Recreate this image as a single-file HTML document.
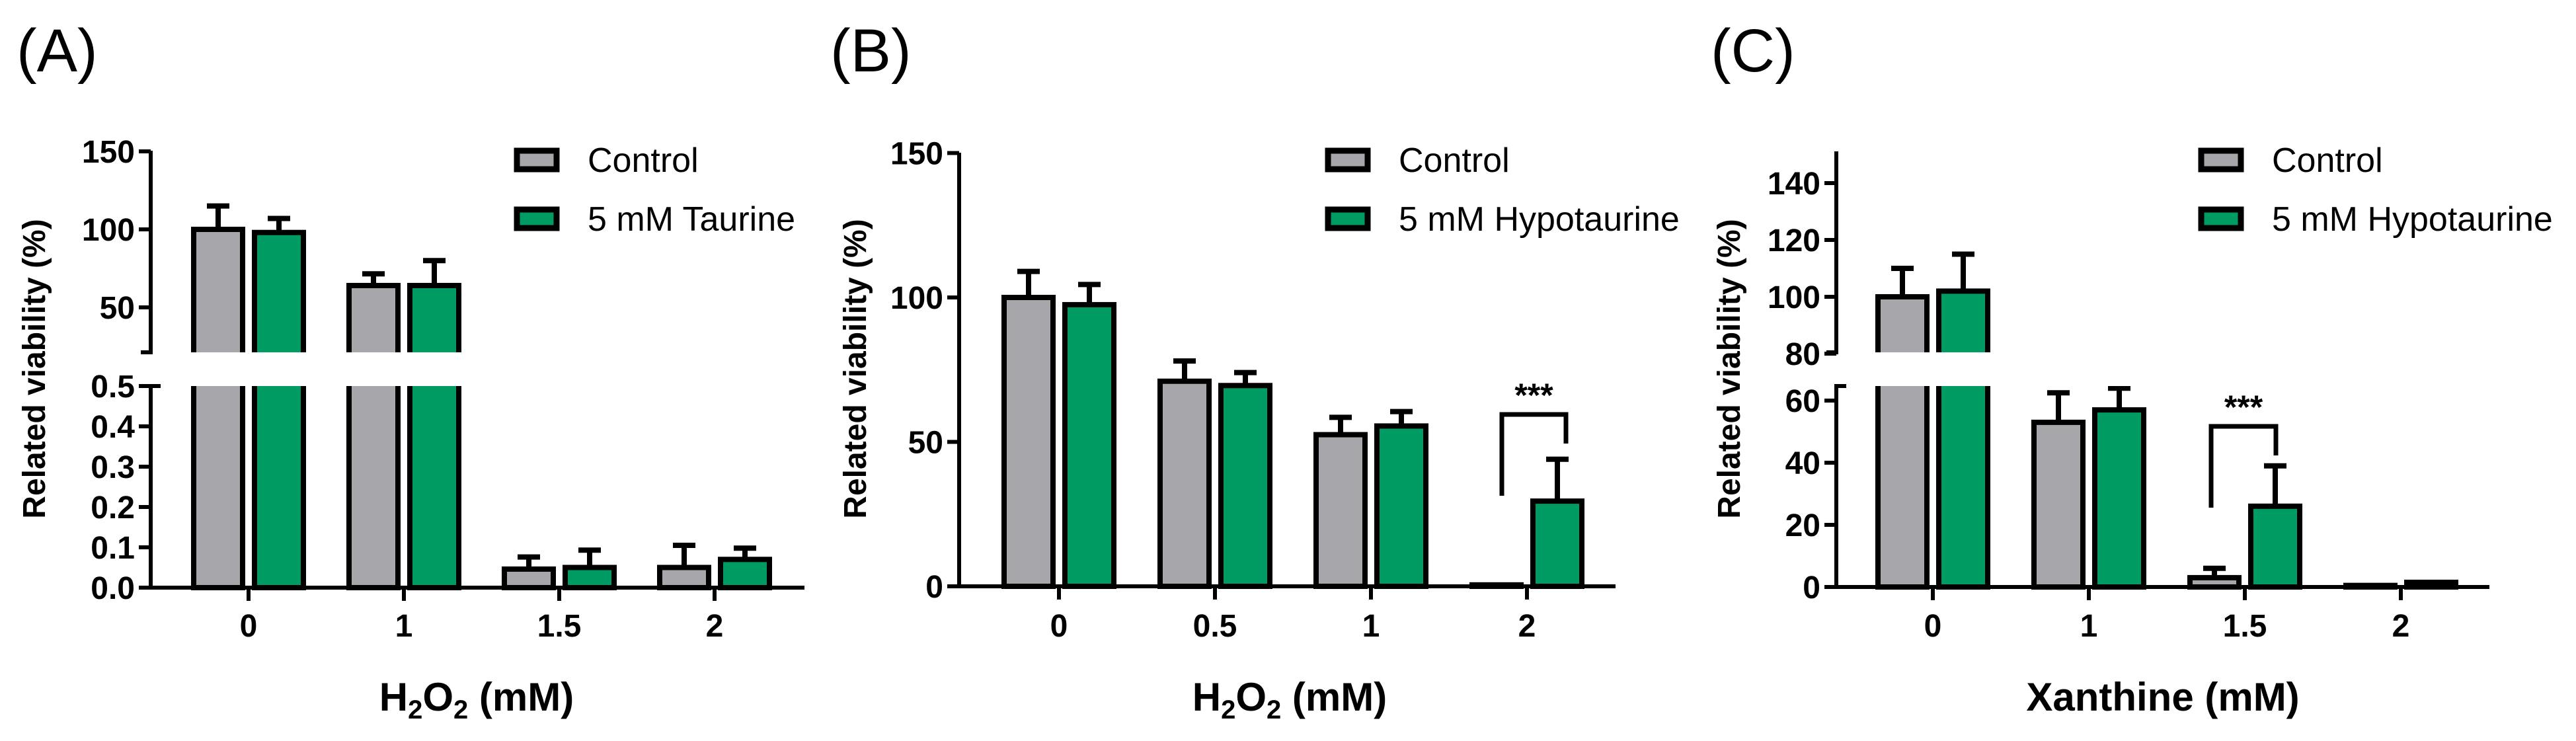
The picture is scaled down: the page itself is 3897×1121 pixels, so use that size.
<!DOCTYPE html>
<html><head><meta charset="utf-8"><style>
html,body{margin:0;padding:0;background:#fff}
svg{display:block;font-family:"Liberation Sans",Arial,sans-serif}
</style></head><body>
<svg id="fig" width="3897" height="1121" viewBox="0 0 3897 1121" xmlns="http://www.w3.org/2000/svg"></svg>
<script>
// ---- data ----
const catsA = ["0","1","1.5","2"];
const ctrlA = [100, 64, 0.046, 0.05];
const ctrlErrA = [15, 7.5, 0.03, 0.055];
const tauA = [98, 64, 0.05, 0.07];
const tauErrA = [9, 16, 0.043, 0.028];
const ticksAup = [50, 100, 150];
const ticksAlo = [0, 0.1, 0.2, 0.3, 0.4, 0.5];
const tickLabAlo = ["0.0","0.1","0.2","0.3","0.4","0.5"];

const catsB = ["0","0.5","1","2"];
const ctrlB = [100, 71, 52.5, 0.5];
const ctrlErrB = [9, 7, 6, 0];
const hypoB = [97.5, 69.5, 55.5, 29.5];
const hypoErrB = [7, 4.5, 5, 14.5];
const ticksB = [0, 50, 100, 150];

const catsC = ["0","1","1.5","2"];
const ctrlC = [100, 53, 3, 0.5];
const ctrlErrC = [10, 9.5, 3, 0];
const hypoC = [102, 57, 26, 1.5];
const hypoErrC = [13, 7, 13, 0];
const ticksCup = [80, 100, 120, 140];
const ticksClo = [0, 20, 40, 60];

const GRAY = "#a7a6ab", GREEN = "#009b62";
const svg = document.getElementById('fig');
const NS = "http://www.w3.org/2000/svg";
function mk(tag, attrs, parent){
  const e = document.createElementNS(NS, tag);
  for (const k in attrs) e.setAttribute(k, attrs[k]);
  (parent||svg).appendChild(e); return e;
}
function txt(s, attrs, parent){ const t = mk('text', attrs, parent); t.textContent = s; return t; }

function panel(cfg){
  const g = mk('g', {});
  
  
  const y = cfg.y;
  const x0 = cfg.axisX;
  cfg.cats.forEach((c, i) => {
    const cx = cfg.cat0 + i * cfg.step;
    [[cfg.s1, cfg.e1, GRAY, -46, 'control'], [cfg.s2, cfg.e2, GREEN, 46, cfg.s2name]].forEach(([vals, errs, col, off, sn]) => {
      const v = vals[i], bx = cx + off;
      const yt = y(v), yb = y(0);
      if (errs[i] > 0) {
        const ye = y(v + errs[i]);
        const el = mk('line', {x1: bx, x2: bx, y1: yt, y2: ye, stroke: '#000', 'stroke-width': 8}, g);
        
        
        const cap = mk('line', {x1: bx - 17, x2: bx + 17, y1: ye, y2: ye, stroke: '#000', 'stroke-width': 8}, g);
        
        
      }
      const r = mk('rect', {x: bx - 37, y: yt, width: 74, height: Math.max(yb - yt, 1), fill: col, stroke: '#000', 'stroke-width': 8}, g);
      
      
    });
  });
  if (cfg.gap) {
    mk('rect', {x: x0 + 5, y: cfg.gap[0], width: cfg.axisEnd - x0, height: cfg.gap[1] - cfg.gap[0], fill: '#fff'}, g);
  }
  cfg.segs.forEach(s => {
    const a = mk('line', {x1: x0, x2: x0, y1: s[0], y2: s[1], stroke: '#000', 'stroke-width': 6}, g);
    
    
  });
  if (cfg.gap) {
    mk('line', {x1: x0 - 15, x2: x0 + 3, y1: cfg.gap[0], y2: cfg.gap[0], stroke: '#000', 'stroke-width': 6}, g);
    mk('line', {x1: x0 - 3, x2: x0 + 15, y1: cfg.gap[1], y2: cfg.gap[1], stroke: '#000', 'stroke-width': 6}, g);
  }
  cfg.ticks.forEach((t, i) => {
    const ty = y(t);
    mk('line', {x1: x0 - 18, x2: x0, y1: ty, y2: ty, stroke: '#000', 'stroke-width': 6}, g);
    const l = txt(cfg.tickLabs[i], {x: x0 - 24, y: ty + 17, 'text-anchor': 'end', 'font-size': 48, 'font-weight': 'bold'}, g);
    
    
  });
  const yb = y(0);
  const xa = mk('line', {x1: x0 - 18, x2: cfg.axisEnd, y1: yb, y2: yb, stroke: '#000', 'stroke-width': 6}, g);
  
  
  cfg.cats.forEach((c, i) => {
    const cx = cfg.cat0 + i * cfg.step;
    mk('line', {x1: cx, x2: cx, y1: yb, y2: yb + 20, stroke: '#000', 'stroke-width': 6}, g);
    const l = txt(c, {x: cx, y: 963, 'text-anchor': 'middle', 'font-size': 48, 'font-weight': 'bold'}, g);
    
    
  });
  const yt = txt('Related viability (%)', {x: 0, y: 0, 'text-anchor': 'middle', 'font-size': 48, 'font-weight': 'bold', transform: `translate(${cfg.ylabX},558) rotate(-90)`}, g);
  
  
  [[GRAY, 'Control', 241], [GREEN, cfg.s2label, 330]].forEach(([col, lab, ly], k) => {
    const b = mk('rect', {x: cfg.legX, y: ly - 13, width: 60, height: 28, fill: col, stroke: '#000', 'stroke-width': 9}, g);
    
    
    const t = txt(lab, {x: cfg.legX + 107, y: ly + 19, 'font-size': 52}, g);
    
    
  });
  const pl = txt(cfg.letter, {x: cfg.letterX, y: 108, 'font-size': 92}, g);
  
  
  if (cfg.sig) {
    const s = cfg.sig;
    const p = mk('polyline', {points: `${s[0]},${s[2]} ${s[0]},${s[3]} ${s[1]},${s[3]} ${s[1]},${s[4]}`, fill: 'none', stroke: '#000', 'stroke-width': 7}, g);
    
    
    const st = txt('***', {x: (s[0] + s[1]) / 2, y: s[3] - 12, 'text-anchor': 'middle', 'font-size': 50, 'font-weight': 'bold'}, g);
    
    
  }
  return g;
}

panel({
  name: 'panel-a', letter: '(A)', letterX: 25, axisX: 228, axisEnd: 1217,
  cats: catsA, cat0: 376, step: 235,
  s1: ctrlA, e1: ctrlErrA, s2: tauA, e2: tauErrA, s2name: 'taurine', s2label: '5 mM Taurine',
  y: v => v <= 0.5 ? 889 - v * 610 : 347 - (v - 100) * 2.36,
  gap: [533, 584], segs: [[228, 533], [584, 889]],
  ticks: ticksAup.concat(ticksAlo), tickLabs: ticksAup.map(String).concat(tickLabAlo),
  ylabX: 68, legX: 782
});
panel({
  name: 'panel-b', letter: '(B)', letterX: 1256, axisX: 1451, axisEnd: 2444,
  cats: catsB, cat0: 1602, step: 236,
  s1: ctrlB, e1: ctrlErrB, s2: hypoB, e2: hypoErrB, s2name: 'hypotaurine', s2label: '5 mM Hypotaurine',
  y: v => 887 - v * 4.37,
  segs: [[231, 887]], ticks: ticksB, tickLabs: ticksB.map(String),
  ylabX: 1310, legX: 2009,
  sig: [2272, 2369, 750, 627, 671]
});
panel({
  name: 'panel-c', letter: '(C)', letterX: 2588, axisX: 2778, axisEnd: 3766,
  cats: catsC, cat0: 2924, step: 236,
  s1: ctrlC, e1: ctrlErrC, s2: hypoC, e2: hypoErrC, s2name: 'hypotaurine', s2label: '5 mM Hypotaurine',
  y: v => v <= 65 ? 888 - v * 4.7 : 449 - (v - 100) * 4.3,
  gap: [533, 584], segs: [[229, 533], [584, 888]],
  ticks: ticksCup.concat(ticksClo), tickLabs: ticksCup.concat(ticksClo).map(String),
  ylabX: 2632, legX: 3330,
  sig: [3345, 3443, 768, 645, 689]
});

function xTitle(x, name){
  const t = mk('text', {x: x, y: 1075, 'text-anchor': 'middle', 'font-size': 60, 'font-weight': 'bold'});
  
  
  const parts = [['H', 60, 0], ['2', 40, 12], ['O', 60, -12], ['2', 40, 12], [' (mM)', 60, -12]];
  parts.forEach(p => {
    const s = mk('tspan', {'font-size': p[1], dy: p[2]}, t);
    s.textContent = p[0];
  });
}
xTitle(721, 'x-axis-title-a');
xTitle(1951, 'x-axis-title-b');
const xc = txt('Xanthine (mM)', {x: 3272, y: 1075, 'text-anchor': 'middle', 'font-size': 60, 'font-weight': 'bold'});


</script>
</body></html>
